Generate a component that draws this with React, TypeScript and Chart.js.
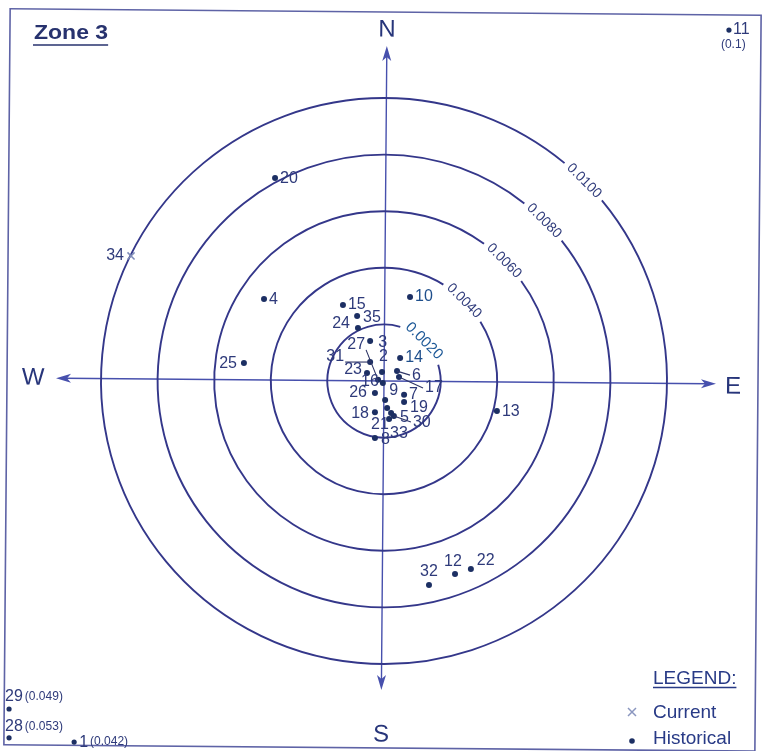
import React, { useEffect, useRef } from "react";
import { Chart, registerables } from "chart.js";

Chart.register(...registerables);

// ---------- data ----------
const RING_VALUES = [0.002, 0.004, 0.006, 0.008, 0.01];
const RING_LABELS = ["0.0020", "0.0040", "0.0060", "0.0080", "0.0100"];

const historicalIds = ["10", "15", "35", "24", "3", "27", "31", "2", "23", "14", "6", "17", "16", "26", "9", "7", "19", "18", "21", "5", "33", "30", "8", "4", "25", "20", "13", "32", "12", "22"];
const historicalX = [0.00092, -0.00145, -0.00095, -0.00092, -0.00049, -0.00021, -0.00049, -0.00007, -0.0006, 0.00057, 0.00046, 0.00053, -0.00004, -0.00032, 0.00004, 0.00071, 0.00071, -0.00032, 0.00011, 0.00025, 0.00018, 0.00035, -0.00032, -0.00424, -0.00495, -0.00385, 0.00399, 0.00159, 0.00251, 0.00307];
const historicalY = [0.00297, 0.00269, 0.0023, 0.00187, 0.00141, 0.00004, 0.00067, 0.00032, 0.00028, 0.00081, 0.00035, 0.00014, -0.00007, -0.00042, -0.00067, -0.00049, -0.00074, -0.0011, -0.00095, -0.00113, -0.00134, -0.00124, -0.00201, 0.0029, 0.00064, 0.00717, -0.00106, -0.00721, -0.00682, -0.00664];

// off-scale historical points (plotted at the chart edge, true value in brackets)
const offScaleIds = ["11", "29", "28", "1"];
const offScaleValues = ["0.1", "0.049", "0.053", "0.042"];
const offScaleX = [0.01219, -0.01325, -0.01325, -0.01095];
const offScaleY = [0.0124, -0.01159, -0.01261, -0.01276];

const currentIds = ["34"];
const currentX = [-0.00894];
const currentY = [0.00442];

const COMPASS = ["N", "E", "S", "W"];
const TITLE = "Zone 3";
const LEGEND_TITLE = "LEGEND:";
const LEGEND_ITEMS = ["Current", "Historical"];

// ---------- layout / style ----------
const X_MIN = -0.01357;
const X_MAX = 0.01357;
const Y_MIN = -0.013074;
const Y_MAX = 0.013463;

const LINE = "#34378a";
const AXIS = "#4750ad";
const TEXT = "#2e3a7a";
const DOT = "#1c2f63";
const FONT = "'Liberation Sans', Arial, sans-serif";

// label placement: [dx, dy, align, leader line]
const labelPlacement: Record<string, [number, number, "l" | "r", boolean]> = {
  "10": [5, 0, "l", false], "15": [5, 0, "l", false], "35": [6, 2, "l", false], "24": [-8, -4, "r", false],
  "3": [8, 1, "l", false], "27": [-13, -35, "r", true], "31": [-26, -5, "r", true], "2": [-3, -15, "l", false],
  "23": [-5, -3, "r", false], "14": [5, 0, "l", false], "6": [15, 4, "l", true], "17": [26, 11, "l", true],
  "16": [-4, -1, "r", false], "26": [-8, 0, "r", false], "9": [4, -9, "l", false], "7": [5, 0, "l", false],
  "19": [6, 6, "l", false], "18": [-6, 1, "r", false], "21": [-16, 17, "l", false], "5": [9, 5, "l", false],
  "33": [1, 15, "l", false], "30": [19, 6, "l", true], "8": [6, 2, "l", false], "4": [5, 1, "l", false],
  "25": [-7, 1, "r", false], "20": [5, 1, "l", false], "13": [5, 1, "l", false], "32": [-9, -13, "l", false],
  "12": [-11, -12, "l", false], "22": [6, -8, "l", false], "34": [-7, 0, "r", false], "11": [4, 0, "l", false],
  "29": [-4, -12, "l", false], "28": [-4, -11, "l", false], "1": [5, 0, "l", false],
};

const TILT = 0.0085; // slight scan rotation

const compassPlugin = {
  id: "compass",
  beforeDatasetsDraw(chart: any) {
    const ctx: CanvasRenderingContext2D = chart.ctx;
    const xs = chart.scales.x;
    const ys = chart.scales.y;
    const cx = xs.getPixelForValue(0);
    const cy = ys.getPixelForValue(0);
    ctx.save();
    ctx.fillStyle = "#ffffff";
    ctx.fillRect(0, 0, chart.width, chart.height);

    // frame + axes (slightly rotated like the scan)
    ctx.save();
    ctx.translate(cx, cy);
    ctx.rotate(TILT);
    ctx.strokeStyle = "#5e63a6";
    ctx.lineWidth = 1.6;
    ctx.strokeRect(7 - cx, 12 - cy, 751, 736);

    ctx.strokeStyle = AXIS;
    ctx.fillStyle = AXIS;
    ctx.lineWidth = 1.4;
    const nTip = 46 - cy, sTip = 690 - cy, wTip = 56 - cx, eTip = 716 - cx;
    ctx.beginPath();
    ctx.moveTo(0, nTip + 8); ctx.lineTo(0, sTip - 8);
    ctx.moveTo(wTip + 8, 0); ctx.lineTo(eTip - 8, 0);
    ctx.stroke();
    const arrow = (tx: number, ty: number, dx: number, dy: number) => {
      const L = 15, hw = 4.5;
      const bx = tx - dx * L, by = ty - dy * L;
      ctx.beginPath();
      ctx.moveTo(tx, ty);
      ctx.lineTo(bx - dy * hw, by + dx * hw);
      ctx.lineTo(tx - dx * (L - 4), ty - dy * (L - 4));
      ctx.lineTo(bx + dy * hw, by - dx * hw);
      ctx.closePath();
      ctx.fill();
    };
    arrow(0, nTip, 0, -1);
    arrow(0, sTip, 0, 1);
    arrow(wTip, 0, -1, 0);
    arrow(eTip, 0, 1, 0);

    ctx.fillStyle = "#27357a";
    ctx.font = `24px ${FONT}`;
    ctx.textAlign = "center";
    ctx.textBaseline = "middle";
    ctx.fillText(COMPASS[0], 0, 30 - cy);
    ctx.fillText(COMPASS[1], 733 - cx, 0 + 3);
    ctx.fillText(COMPASS[2], 0, 735 - cy);
    ctx.fillText(COMPASS[3], 33 - cx, 0);
    ctx.restore();

    // rings with gaps for their labels
    const a0 = -Math.PI / 4;
    RING_VALUES.forEach((v, i) => {
      const r = xs.getPixelForValue(v) - cx;
      const inner = i === 0;
      ctx.font = inner ? `15px ${FONT}` : `14px ${FONT}`;
      const tw = ctx.measureText(RING_LABELS[i]).width;
      const gap = (tw / 2 + 5) / r;
      ctx.strokeStyle = LINE;
      ctx.lineWidth = 1.9;
      ctx.beginPath();
      ctx.arc(cx, cy, r, a0 + gap, a0 - gap + Math.PI * 2);
      ctx.stroke();
      ctx.save();
      ctx.translate(cx + r * Math.cos(a0), cy + r * Math.sin(a0));
      ctx.rotate(Math.PI / 4);
      ctx.fillStyle = inner ? "#1f5a98" : "#303c7c";
      ctx.textAlign = "center";
      ctx.textBaseline = "middle";
      ctx.fillText(RING_LABELS[i], 0, 0);
      ctx.restore();
    });

    // title
    ctx.save();
    ctx.fillStyle = "#27326e";
    ctx.font = `bold 20px ${FONT}`;
    ctx.textAlign = "left";
    ctx.textBaseline = "alphabetic";
    ctx.translate(34, 39);
    ctx.scale(1.15, 1);
    ctx.fillText(TITLE, 0, 0);
    const tw = ctx.measureText(TITLE).width;
    ctx.restore();
    ctx.strokeStyle = "#27326e";
    ctx.lineWidth = 1.5;
    ctx.beginPath();
    ctx.moveTo(33, 45);
    ctx.lineTo(34 + tw * 1.15, 45);
    ctx.stroke();

    // legend
    ctx.fillStyle = "#283a86";
    ctx.font = `19px ${FONT}`;
    ctx.textAlign = "left";
    ctx.textBaseline = "alphabetic";
    ctx.fillText(LEGEND_TITLE, 653, 684);
    const lw = ctx.measureText(LEGEND_TITLE).width;
    ctx.strokeStyle = "#283a86";
    ctx.lineWidth = 1.4;
    ctx.beginPath();
    ctx.moveTo(653, 687.5);
    ctx.lineTo(653 + lw, 687.5);
    ctx.stroke();
    ctx.textBaseline = "middle";
    ctx.fillText(LEGEND_ITEMS[0], 653, 713);
    ctx.fillText(LEGEND_ITEMS[1], 653, 739);
    ctx.strokeStyle = "#8a96bf";
    ctx.lineWidth = 1.5;
    ctx.beginPath();
    ctx.moveTo(628, 708); ctx.lineTo(636, 716);
    ctx.moveTo(636, 708); ctx.lineTo(628, 716);
    ctx.stroke();
    ctx.fillStyle = DOT;
    ctx.beginPath();
    ctx.arc(632, 741, 2.8, 0, Math.PI * 2);
    ctx.fill();
    ctx.restore();
  },
  afterDatasetsDraw(chart: any) {
    const ctx: CanvasRenderingContext2D = chart.ctx;
    ctx.save();
    ctx.textBaseline = "middle";
    chart.data.datasets.forEach((ds: any, di: number) => {
      const meta = chart.getDatasetMeta(di);
      ds.data.forEach((p: any, j: number) => {
        const el = meta.data[j];
        if (!el) return;
        const pl = labelPlacement[p.id] || [5, 0, "l", false];
        const lx = el.x + pl[0];
        const ly = el.y + pl[1];
        ctx.fillStyle = p.id === "10" || p.id === "14" ? "#1f4f8c" : TEXT;
        ctx.font = `16px ${FONT}`;
        ctx.textAlign = pl[2] === "l" ? "left" : "right";
        ctx.fillText(p.id, lx, ly);
        if (pl[3]) {
          ctx.strokeStyle = "#2e3566";
          ctx.lineWidth = 1.1;
          ctx.beginPath();
          ctx.moveTo(el.x, el.y);
          if (pl[2] === "r") ctx.lineTo(lx + 1, ly + 5);
          else ctx.lineTo(lx - 2, ly);
          ctx.stroke();
        }
        if (p.value) {
          ctx.font = `12px ${FONT}`;
          ctx.textAlign = "left";
          if (p.id === "11") {
            ctx.fillText(`(${p.value})`, el.x - 8, ly + 15);
          } else {
            ctx.font = `16px ${FONT}`;
            const w = ctx.measureText(p.id).width;
            ctx.font = `12px ${FONT}`;
            ctx.fillText(`(${p.value})`, lx + w + 2, ly);
          }
        }
      });
    });
    ctx.restore();
  },
};

export default function App() {
  const ref = useRef<HTMLCanvasElement>(null);
  useEffect(() => {
    document.body.style.margin = "0";
    const canvas = ref.current;
    if (!canvas) return;
    const historical = historicalIds.map((id, i) => ({ x: historicalX[i], y: historicalY[i], id }));
    const offScale = offScaleIds.map((id, i) => ({ x: offScaleX[i], y: offScaleY[i], id, value: offScaleValues[i] }));
    const current = currentIds.map((id, i) => ({ x: currentX[i], y: currentY[i], id }));
    const chart = new Chart(canvas, {
      type: "scatter",
      data: {
        datasets: [
          { label: "Historical", data: historical as any, pointRadius: 3, pointBackgroundColor: DOT, pointBorderWidth: 0, clip: false as any },
          { label: "Historical (off scale)", data: offScale as any, pointRadius: 2.6, pointBackgroundColor: DOT, pointBorderWidth: 0, clip: false as any },
          { label: "Current", data: current as any, pointStyle: "crossRot", pointRadius: 5, pointBorderColor: "#7f8cb8", pointBorderWidth: 1.5, clip: false as any },
        ],
      },
      options: {
        responsive: false,
        maintainAspectRatio: false,
        animation: false,
        events: [],
        layout: { padding: 0, autoPadding: false } as any,
        scales: {
          x: { type: "linear", min: X_MIN, max: X_MAX, display: false },
          y: { type: "linear", min: Y_MIN, max: Y_MAX, display: false },
        },
        plugins: { legend: { display: false }, tooltip: { enabled: false } },
      },
      plugins: [compassPlugin],
    });
    return () => chart.destroy();
  }, []);
  return (
    <div style={{ position: "absolute", left: 0, top: 0, width: 768, height: 751 }}>
      <canvas ref={ref} width={768} height={751} style={{ display: "block", width: 768, height: 751 }} />
    </div>
  );
}
